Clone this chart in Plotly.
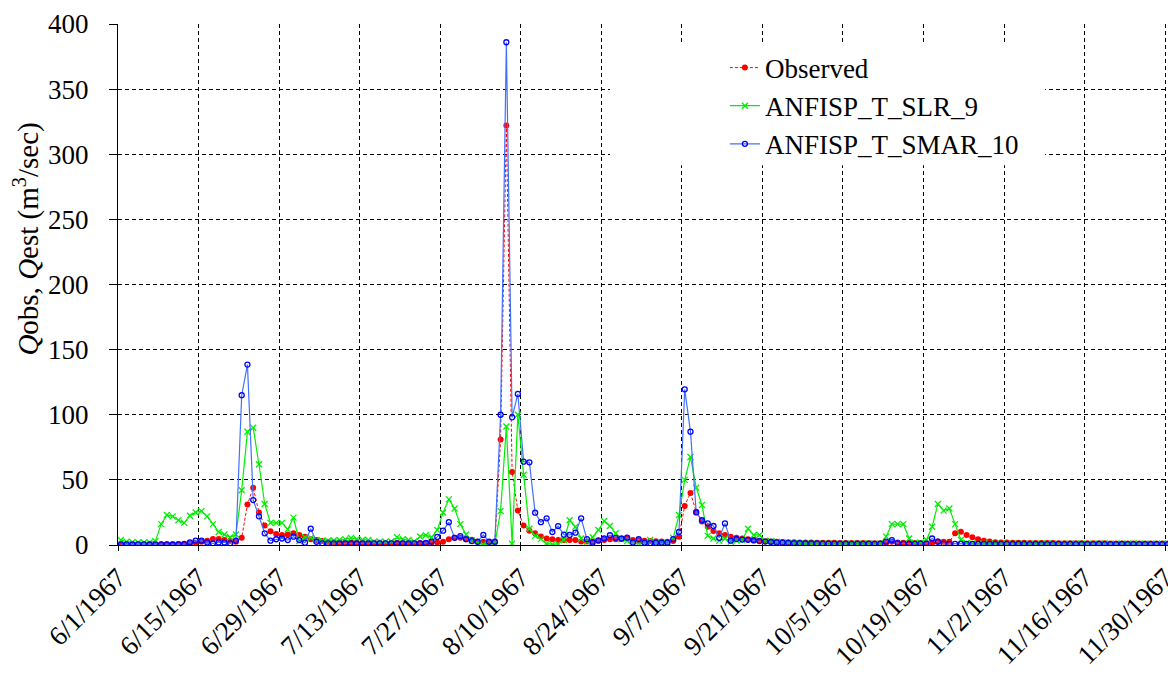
import pandas as pd
import plotly.graph_objects as go

# Daily discharge, 1 June - 30 November 1967 (m3/sec)
start_day = "1967-06-01 12:00"

observed = [
    0.5, 0.5, 0.5, 0.5, 0.5, 0.5, 0.5, 0.5, 0.5, 0.6, 0.8, 1.0,
    1.3, 1.8, 2.5, 3.3, 4.6, 4.6, 3.8, 3.3, 2.5, 5.6, 31, 44,
    25, 15, 10.5, 8.5, 7.7, 8, 9, 7.7, 6.4, 4.5, 3.8, 3,
    2.5, 2.3, 2.2, 2, 2, 1.9, 1.8, 1.8, 1.7, 1.7, 1.6, 1.6,
    1.6, 1.5, 1.5, 1.5, 1.5, 1.6, 1.8, 2, 2.5, 4.5, 5.5, 5.5,
    4.5, 4, 2.5, 2.5, 2, 2, 81, 322, 56, 26.5, 15, 11,
    9, 6.5, 5, 4.4, 3.8, 3.8, 3.8, 3.8, 2.7, 2.6, 2.6, 3.3,
    3.8, 4.4, 4.4, 4.6, 5, 3.8, 3.5, 3.3, 3, 2.8, 2.6, 2.5,
    3, 6.4, 30, 40, 25.6, 18, 14, 10.7, 9, 7.7, 6.4, 5.6,
    5, 4.4, 3.8, 3.3, 2.8, 2.6, 2.4, 2.3, 2.2, 2.1, 2, 2,
    1.9, 1.8, 1.8, 1.7, 1.7, 1.6, 1.6, 1.5, 1.5, 1.5, 1.4, 1.4,
    1.4, 1.5, 2.5, 2, 1.8, 1.6, 1.5, 1.5, 1.5, 1.5, 2.6, 2.5,
    2.5, 9, 10.2, 7.7, 5.9, 4.4, 3.3, 2.6, 2.2, 2, 1.9, 1.8,
    1.7, 1.7, 1.6, 1.6, 1.5, 1.5, 1.5, 1.4, 1.4, 1.4, 1.4, 1.3,
    1.3, 1.3, 1.3, 1.3, 1.2, 1.2, 1.2, 1.2, 1.2, 1.2, 1.1, 1.1,
    1.1, 1.1, 1.1,
]

anfisp_slr_9 = [
    3.8, 2.6, 2.2, 2, 2, 2, 3, 16, 23, 22, 19, 17,
    22.5, 25, 26, 22, 16, 10, 8, 6, 8, 42, 87, 90,
    62, 31.5, 17, 17, 17, 12, 21, 3, 6, 5.5, 3.8, 3.3,
    3.3, 3.5, 3.8, 4.5, 5.5, 4.5, 4, 3.8, 2.6, 2.6, 2.5, 2.8,
    5.9, 4.4, 3.8, 2.8, 6.5, 7.5, 5.9, 11.5, 25, 35, 28, 16,
    8, 3.5, 1.2, 0.5, 0.5, 1, 26, 91, 1, 100, 54, 12.5,
    7, 4.5, 1, 0.5, 0.8, 3.8, 19, 14, 5, 2.5, 6, 11.5,
    18.4, 14.6, 9, 4.4, 3, 1.5, 1.3, 1.3, 3.8, 1.8, 1.3, 1.8,
    5.5, 23, 50, 67.5, 44, 30.7, 7, 5, 3.3, 5, 2.6, 3.5,
    4, 12.5, 7.7, 7.7, 3.3, 3, 2.5, 2, 1.5, 1.2, 1.1, 1.0,
    1.0, 0.9, 1.0, 1.1, 1.0, 0.9, 1.0, 1.0, 0.9, 1.0, 1.1, 1.0,
    1.0, 6.4, 16, 16, 16, 5, 1.8, 1.8, 3.8, 14, 31.5, 26.4,
    28, 16, 4, 1.5, 1.2, 1.0, 1.0, 1.1, 1.0, 0.9, 1.0, 1.0,
    1.1, 1.0, 0.9, 1.0, 1.0, 1.1, 1.0, 0.9, 1.0, 1.0, 1.1, 1.0,
    0.9, 1.0, 1.0, 1.1, 1.0, 1.0, 0.9, 1.0, 1.1, 1.0, 1.0, 0.9,
    1.0, 1.0, 1.1,
]

anfisp_smar_10 = [
    0.5, 0.5, 0.4, 0.5, 0.5, 0.4, 0.5, 0.5, 0.5, 0.4, 0.5, 0.6,
    2, 3.3, 3.3, 2, 1.3, 2, 2, 1.3, 3.3, 115, 138.5, 34.5,
    22, 9, 3.3, 4.4, 5, 3.8, 6.4, 3.8, 1.8, 12.5, 2.5, 1.3,
    1.3, 1.2, 1.2, 1.3, 1.2, 1.2, 1.3, 1.2, 1.2, 1.3, 1.2, 1.2,
    1.3, 1.3, 1.2, 1.2, 1.3, 1.6, 2.6, 6.2, 11, 17.5, 5.5, 6.8,
    4.5, 3, 2.5, 7.7, 2.5, 2.5, 100, 386, 98, 116, 64, 63.5,
    24.8, 17.5, 20.5, 10, 14.5, 8, 7.7, 9.5, 20.5, 4.5, 2, 3.5,
    5, 7.5, 5.5, 5, 5.6, 2, 4.4, 1.8, 1.5, 1.8, 1.8, 1.8,
    4.5, 10, 119.5, 87, 25, 19, 16.6, 14.6, 5.5, 16.6, 3.3, 4.6,
    4.2, 4, 3.5, 3, 2.6, 2.3, 2, 1.8, 1.6, 1.5, 1.4, 1.3,
    1.2, 1.2, 1.1, 1.1, 1.0, 1.0, 1.0, 0.9, 1.0, 0.9, 1.0, 0.9,
    1.0, 2.6, 3.8, 1.5, 1.0, 1.0, 0.9, 1.0, 1.0, 5, 2.5, 1.0,
    0.9, 0.9, 0.8, 0.9, 0.8, 0.8, 0.9, 0.8, 0.8, 0.8, 0.9, 0.8,
    0.8, 0.8, 0.7, 0.8, 0.8, 0.7, 0.8, 0.8, 0.7, 0.8, 0.7, 0.8,
    0.7, 0.7, 0.8, 0.7, 0.7, 0.7, 0.8, 0.7, 0.7, 0.7, 0.7, 0.7,
    0.7, 0.7, 0.7,
]

tick_dates = [
    "1967-06-01", "1967-06-15", "1967-06-29", "1967-07-13", "1967-07-27",
    "1967-08-10", "1967-08-24", "1967-09-07", "1967-09-21", "1967-10-05",
    "1967-10-19", "1967-11-02", "1967-11-16", "1967-11-30",
]
tick_labels = [
    "6/1/1967", "6/15/1967", "6/29/1967", "7/13/1967", "7/27/1967",
    "8/10/1967", "8/24/1967", "9/7/1967", "9/21/1967", "10/5/1967",
    "10/19/1967", "11/2/1967", "11/16/1967", "11/30/1967",
]
y_ticks = [0, 50, 100, 150, 200, 250, 300, 350, 400]

days = pd.date_range(start_day, periods=len(observed), freq="D")

FONT = "Liberation Serif"
FS = 27

fig = go.Figure()
fig.add_trace(go.Scatter(
    x=days, y=observed, name="Observed", mode="lines+markers",
    line=dict(color="#ff0000", width=1, dash="3px,2px"),
    marker=dict(symbol="circle", size=6, color="#ff0000"),
))
fig.add_trace(go.Scatter(
    x=days, y=anfisp_slr_9, name="ANFISP_T_SLR_9", mode="lines+markers",
    line=dict(color="#00ee00", width=1.2),
    marker=dict(symbol="x-thin", size=6, color="#00ee00",
                line=dict(color="#00ee00", width=1.3)),
))
fig.add_trace(go.Scatter(
    x=days, y=anfisp_smar_10, name="ANFISP_T_SMAR_10", mode="lines+markers",
    line=dict(color="#4070ff", width=1.2),
    marker=dict(symbol="circle-open", size=5, color="#0000ff",
                line=dict(color="#0000ff", width=1.3)),
))

# white panel behind the legend, hiding the grid there
fig.add_shape(type="rect", xref="paper", yref="paper",
              x0=0.4686, x1=0.883, y0=0.729, y1=0.96,
              fillcolor="white", line=dict(width=0), layer="above")

fig.add_annotation(
    text="<i>Q</i>obs, <i>Q</i>est (m<sup>3</sup>/sec)",
    xref="paper", yref="paper", x=-0.0867, y=0.588,
    xanchor="center", yanchor="middle", textangle=-90, showarrow=False,
    font=dict(family=FONT, size=29, color="black"),
)

fig.update_layout(
    width=1168, height=686,
    margin=dict(l=118, r=0, t=24, b=141, autoexpand=False),
    paper_bgcolor="white", plot_bgcolor="white",
    font=dict(family=FONT, size=FS, color="black"),
    showlegend=True,
    legend=dict(x=0.578, y=0.9625, xanchor="left", yanchor="top",
                bgcolor="rgba(0,0,0,0)", borderwidth=0,
                font=dict(family=FONT, size=FS, color="black")),
    xaxis=dict(
        type="date", range=["1967-06-01", "1967-11-30 12:00"],
        tickmode="array", tickvals=tick_dates, ticktext=tick_labels,
        tickangle=-45, ticklabeloverflow="allow", automargin=False,
        showgrid=True, gridcolor="black", gridwidth=1,
        griddash="4px,3px", showline=True, linecolor="black", linewidth=1,
        ticks="outside", ticklen=5, tickcolor="black", zeroline=False,
    ),
    yaxis=dict(
        range=[0, 400], tickmode="array", tickvals=y_ticks, automargin=False,
        showgrid=True, gridcolor="black", gridwidth=1, griddash="4px,3px",
        showline=True, linecolor="black", linewidth=1,
        ticks="outside", ticklen=8, tickcolor="black", zeroline=False,
        ticklabelstandoff=15,
    ),
)

fig.write_html("out.html")
